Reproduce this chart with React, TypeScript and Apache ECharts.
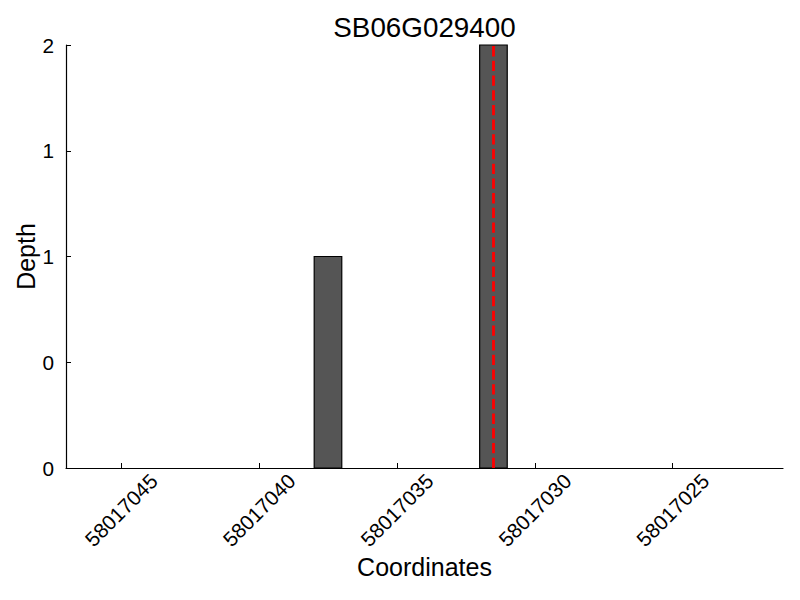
import React, { useEffect, useRef } from "react";
import * as echarts from "echarts";

const title = "SB06G029400";
const xName = "Coordinates";
const yName = "Depth";
const barStarts = [58017037, 58017031];
const barWidthUnits = [1, 1];
const depths = [1, 2];
const markerPosition = 58017031.5;
const xTickValues = [58017045, 58017040, 58017035, 58017030, 58017025];
const xMin = 58017021;
const xMax = 58017047;
const yMin = 0;
const yMax = 2;
const yInterval = 0.5;

const FONT = "Liberation Sans, Arial, sans-serif";

export default function App() {
  const ref = useRef<HTMLDivElement>(null);
  useEffect(() => {
    if (!ref.current) return;
    const chart = echarts.init(ref.current, undefined, { renderer: "svg" });
    const data = barStarts.map((s, i) => [s, s + barWidthUnits[i], depths[i]]);
    const gridLeft = 66;
    const gridRight = 17;
    const gridTop = 45;
    const gridBottom = 132;
    const plotCx = (gridLeft + (800 - gridRight)) / 2;
    const plotCy = (gridTop + (600 - gridBottom)) / 2;
    chart.setOption({
      animation: false,
      backgroundColor: "#ffffff",
      grid: {
        left: gridLeft,
        right: gridRight,
        top: gridTop,
        bottom: gridBottom,
        containLabel: false,
        outerBoundsMode: "none",
      },
      xAxis: {
        type: "value",
        inverse: true,
        min: xMin,
        max: xMax,
        splitLine: { show: false },
        axisLine: { show: true, onZero: false, lineStyle: { color: "#000", width: 1.2 } },
        axisTick: {
          show: true,
          inside: true,
          length: 5,
          customValues: xTickValues,
          lineStyle: { color: "#000", width: 1 },
        },
        axisLabel: {
          show: true,
          customValues: xTickValues,
          rotate: 45,
          align: "center",
          verticalAlign: "middle",
          margin: 42,
          color: "#000",
          fontSize: 20.8,
          fontFamily: FONT,
          formatter: (v: number) => String(Math.round(v)),
        },
      },
      yAxis: {
        type: "value",
        min: yMin,
        max: yMax,
        interval: yInterval,
        splitLine: { show: false },
        axisLine: { show: true, lineStyle: { color: "#000", width: 1.2 } },
        axisTick: { show: true, inside: true, length: 5, lineStyle: { color: "#000", width: 1 } },
        axisLabel: {
          margin: 12,
          color: "#000",
          fontSize: 20.8,
          fontFamily: FONT,
          formatter: (v: number) => String(Math.floor(v)),
        },
      },
      series: [
        {
          type: "custom",
          data,
          encode: { x: [0, 1], y: 2 },
          renderItem: (params: any, api: any) => {
            const a = api.coord([api.value(0), 0]);
            const b = api.coord([api.value(1), api.value(2)]);
            const x = Math.min(a[0], b[0]);
            const w = Math.abs(a[0] - b[0]);
            const y = Math.min(a[1], b[1]);
            const h = Math.abs(a[1] - b[1]);
            return {
              type: "rect",
              shape: { x, y, width: w, height: h },
              style: { fill: "#555555", stroke: "#000000", lineWidth: 1.2 },
            };
          },
          markLine: {
            silent: true,
            symbol: "none",
            label: { show: false },
            lineStyle: { color: "#ff0000", type: [10.3, 4.4], width: 2.8, opacity: 1 },
            emphasis: { disabled: true },
            data: [{ xAxis: markerPosition }],
          },
          z: 2,
        },
      ],
      graphic: [
        {
          type: "text",
          x: plotCx,
          y: 27,
          style: {
            text: title,
            fontSize: 27.8,
            fontFamily: FONT,
            fill: "#000",
            align: "center",
            verticalAlign: "middle",
          },
        },
        {
          type: "text",
          x: plotCx,
          y: 567,
          style: {
            text: xName,
            fontSize: 25,
            fontFamily: FONT,
            fill: "#000",
            align: "center",
            verticalAlign: "middle",
          },
        },
        {
          type: "text",
          x: 26,
          y: plotCy,
          rotation: Math.PI / 2,
          style: {
            text: yName,
            fontSize: 25,
            fontFamily: FONT,
            fill: "#000",
            align: "center",
            verticalAlign: "middle",
          },
        },
      ],
    });
    return () => chart.dispose();
  }, []);
  return (
    <div
      ref={ref}
      style={{ position: "absolute", left: 0, top: 0, width: 800, height: 600 }}
    />
  );
}
